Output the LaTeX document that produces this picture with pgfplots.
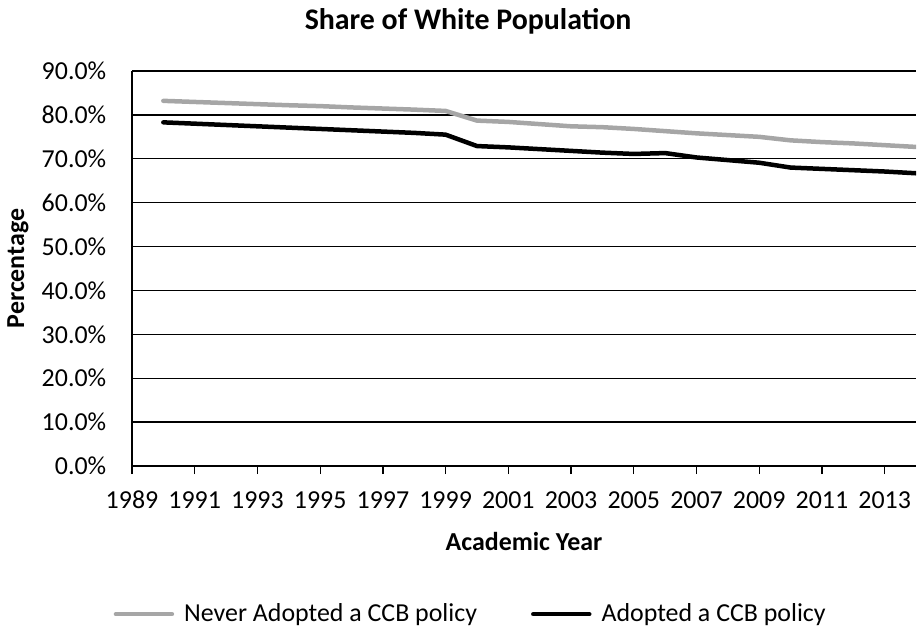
\documentclass[border=0pt]{standalone}
\usepackage{fontspec}
\setmainfont{Carlito}
\usepackage{pgfplots}
\pgfplotsset{compat=1.18}
\definecolor{neverc}{HTML}{A6A6A6}
\begin{document}
\fontsize{26}{31}\selectfont
\begin{tikzpicture}
\useasboundingbox (0,0) rectangle (917bp,630bp);
\begin{axis}[
  at={(132bp,164bp)}, anchor=south west,
  scale only axis, width=784bp, height=395bp,
  xmin=1989, xmax=2014, ymin=0, ymax=90,
  axis x line*=bottom, axis y line*=left,
  axis line style={black, line width=1.5bp},
  xtick={1989,1991,...,2013},
  ytick={0,10,...,90},
  xticklabel={\pgfmathprintnumber[1000 sep={}]{\tick}},
  yticklabel={\pgfmathprintnumber[fixed,fixed zerofill,precision=1]{\tick}\%},
  /pgf/number format/assume math mode=true,
  tick align=outside,
  major tick length=8bp,
  xtick style={black, line width=1.3bp},
  ytick style={draw=none},
  xticklabel style={anchor=center, yshift=-26bp},
  yticklabel style={xshift=-9bp},
  ymajorgrids, grid style={black, line width=1.3bp},
  title={Share of White Population},
  title style={at={(0.4286,1)}, anchor=center, yshift=44bp, font=\bfseries\fontsize{30}{36}\selectfont},
  xlabel={Academic Year},
  xlabel style={at={(0.5,0)}, anchor=center, yshift=-76bp, font=\bfseries},
  ylabel={Percentage},
  ylabel style={at={(-0.1454,0.5)}, anchor=center, font=\bfseries},
  legend columns=2,
  legend style={at={(0.432,-0.375)}, anchor=center, draw=none, fill=none,
    /tikz/every odd column/.append style={column sep=8bp},
    /tikz/every even column/.append style={column sep=52bp}},
  legend cell align=left,
  legend image code/.code={\draw[#1] (0bp,0bp) -- (56bp,0bp);},
]
\addplot[neverc, line width=4.5bp, line join=round, line cap=round] coordinates {
(1990,83.2) (1991,82.95) (1992,82.7) (1993,82.45) (1994,82.2) (1995,82.0)
(1996,81.7) (1997,81.45) (1998,81.2) (1999,80.9) (2000,78.7) (2001,78.4)
(2002,77.9) (2003,77.4) (2004,77.2) (2005,76.8) (2006,76.3) (2007,75.8)
(2008,75.4) (2009,75.0) (2010,74.2) (2011,73.8) (2012,73.5) (2013,73.1) (2014,72.7)
};
\addlegendentry{Never Adopted a CCB policy}
\addplot[black, line width=4.5bp, line join=round, line cap=round] coordinates {
(1990,78.3) (1991,78.0) (1992,77.7) (1993,77.4) (1994,77.1) (1995,76.8)
(1996,76.5) (1997,76.2) (1998,75.9) (1999,75.5) (2000,72.9) (2001,72.6)
(2002,72.2) (2003,71.8) (2004,71.4) (2005,71.1) (2006,71.3) (2007,70.3)
(2008,69.7) (2009,69.1) (2010,68.0) (2011,67.7) (2012,67.4) (2013,67.1) (2014,66.7)
};
\addlegendentry{Adopted a CCB policy}
\end{axis}
\end{tikzpicture}
\end{document}
